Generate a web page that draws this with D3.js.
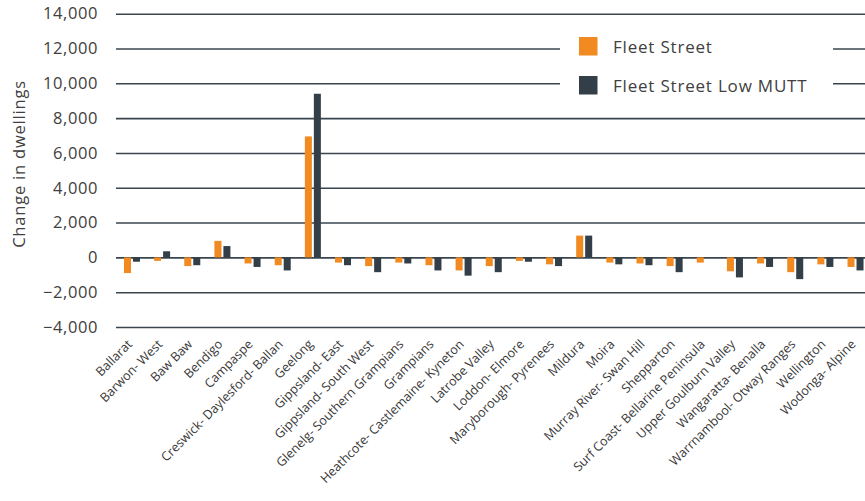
<!DOCTYPE html>
<html>
<head>
<meta charset="utf-8">
<script src="https://cdn.jsdelivr.net/npm/d3@7"></script>
<style>
  body { margin: 0; background: #fff; }
  text { font-family: "Open Sans", sans-serif; fill: #404040; }
</style>
</head>
<body>
<div id="chart"></div>
<script>
// Data
const categories = [
    "Ballarat", "Barwon- West", "Baw Baw", "Bendigo", "Campaspe",
    "Creswick- Daylesford- Ballan", "Geelong", "Gippsland- East",
    "Gippsland- South West", "Glenelg- Southern Grampians", "Grampians",
    "Heathcote- Castlemaine- Kyneton", "Latrobe Valley", "Loddon- Elmore",
    "Maryborough- Pyrenees", "Mildura", "Moira", "Murray River- Swan Hill",
    "Shepparton", "Surf Coast- Bellarine Peninsula", "Upper Goulburn Valley",
    "Wangaratta- Benalla", "Warrnambool- Otway Ranges", "Wellington", "Wodonga- Alpine"
];
const fleetStreet = [
    -900, -200, -500, 950, -350, -450, 6950, -300, -500, -300, -450, -750, -500,
    -200, -400, 1250, -300, -350, -500, -300, -800, -350, -850, -400, -550
];
const fleetStreetLowMutt = [
    -250, 350, -450, 650, -550, -750, 9400, -450, -850, -350, -750, -1050, -850,
    -250, -500, 1250, -400, -450, -850, 0, -1150, -550, -1250, -550, -750
];
const seriesNames = ["Fleet Street", "Fleet Street Low MUTT"];
const yTicks = [-4000, -2000, 0, 2000, 4000, 6000, 8000, 10000, 12000, 14000];

const width = 865, height = 501;
const colors = { "Fleet Street": "#F08A21", "Fleet Street Low MUTT": "#323E48" };

const svg = d3.select("#chart")
    .append("svg")
    .attr("width", width)
    .attr("height", height);

const x0 = d3.scaleBand()
    .domain(categories)
    .range([116.9, 870.6]);

const x1 = d3.scaleBand()
    .domain(seriesNames)
    .range([x0.bandwidth() / 2 - 8, x0.bandwidth() / 2 + 8])
    .paddingInner(0.22);

const y = d3.scaleLinear()
    .domain([-4000, 14000])
    .range([327, 13.7]);

// Gridlines + tick labels
const yAxis = d3.axisLeft(y)
    .tickValues(yTicks)
    .tickSize(-(width - 116))
    .tickFormat(d3.format(","));

const gy = svg.append("g")
    .attr("transform", "translate(116,0)")
    .call(yAxis);
gy.select(".domain").remove();
gy.selectAll(".tick line")
    .attr("stroke", "#3a454f")
    .attr("stroke-width", 1.6);
gy.selectAll(".tick text")
    .attr("x", -18)
    .style("font-size", "16.5px")
    .style("letter-spacing", "0.6px")
    .attr("fill", "#404040");

// Bars
const rows = categories.map((c, i) => ({
    category: c,
    values: [
        { key: seriesNames[0], value: fleetStreet[i] },
        { key: seriesNames[1], value: fleetStreetLowMutt[i] }
    ]
}));

svg.append("g")
    .selectAll("g")
    .data(rows)
    .enter()
    .append("g")
    .attr("transform", d => `translate(${x0(d.category)},0)`)
    .selectAll("rect")
    .data(d => d.values)
    .enter()
    .append("rect")
    .attr("x", d => x1(d.key))
    .attr("width", x1.bandwidth())
    .attr("y", d => y(Math.max(0, d.value)))
    .attr("height", d => Math.abs(y(d.value) - y(0)))
    .attr("fill", d => colors[d.key]);

// Category labels, rotated
svg.append("g")
    .selectAll("text")
    .data(categories)
    .enter()
    .append("text")
    .attr("text-anchor", "end")
    .attr("transform", d => `translate(${x0(d) + x0.bandwidth() / 2 + 1},${345}) rotate(-45)`)
    .style("font-size", "12.6px")
    .attr("fill", "#383838")
    .style("fill", "#383838")
    .text(d => d);

// Y axis title
svg.append("text")
    .attr("transform", "translate(25,164) rotate(-90)")
    .attr("text-anchor", "middle")
    .style("font-size", "16.5px")
    .style("letter-spacing", "0.8px")
    .text("Change in dwellings");

// Legend
const legend = svg.append("g");
legend.append("rect")
    .attr("x", 560)
    .attr("y", 25)
    .attr("width", 273)
    .attr("height", 84)
    .attr("fill", "#fff");

seriesNames.forEach((name, i) => {
    const ly = 37 + i * 39;
    legend.append("rect")
        .attr("x", 579)
        .attr("y", ly)
        .attr("width", 18.5)
        .attr("height", 18.5)
        .attr("fill", colors[name]);
    legend.append("text")
        .attr("x", 613)
        .attr("y", ly + 16)
        .style("font-size", "17px")
        .style("letter-spacing", "0.8px")
        .text(name);
});
</script>
</body>
</html>
